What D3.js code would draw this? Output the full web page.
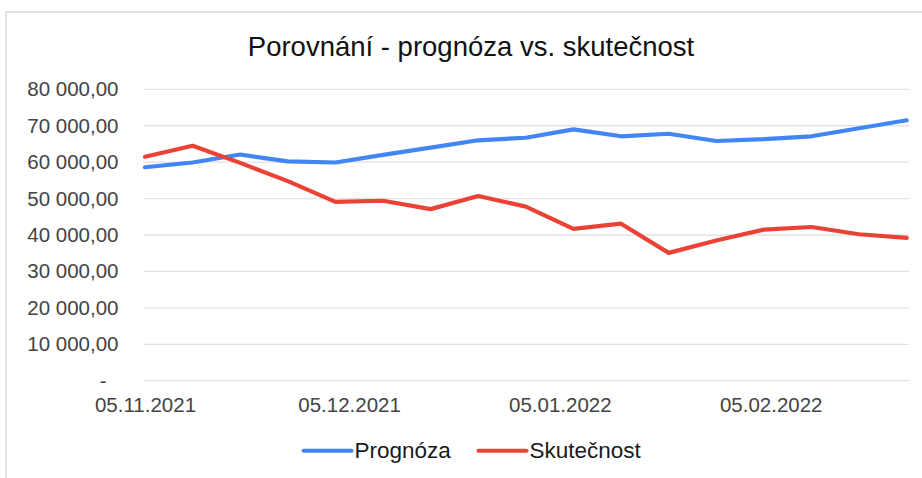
<!DOCTYPE html>
<html>
<head>
<meta charset="utf-8">
<script src="https://cdn.jsdelivr.net/npm/d3@7"></script>
<style>
  body { margin: 0; background: #fff; }
  svg { display: block; font-family: "Liberation Sans", Arial, sans-serif; }
</style>
</head>
<body>
<svg id="chart" width="922" height="478"></svg>
<script>
const title = "Porovnání - prognóza vs. skutečnost";

// weekly points, 05.11.2021 .. 25.02.2022
const dates = [
  "2021-11-05", "2021-11-12", "2021-11-19", "2021-11-26", "2021-12-03",
  "2021-12-10", "2021-12-17", "2021-12-24", "2021-12-31", "2022-01-07",
  "2022-01-14", "2022-01-21", "2022-01-28", "2022-02-04", "2022-02-11",
  "2022-02-18", "2022-02-25"
];
const prognoza = [
  58600, 59900, 62100, 60200, 59900, 62000, 64000, 66000, 66700,
  69000, 67100, 67800, 65800, 66300, 67100, 69300, 71500
];
const skutecnost = [
  61500, 64500, 59800, 54800, 49100, 49400, 47100, 50700, 47800,
  41700, 43100, 35100, 38500, 41500, 42200, 40200, 39200
];
const xTickDates = ["2021-11-05", "2021-12-05", "2022-01-05", "2022-02-05"];
const yTicks = [0, 10000, 20000, 30000, 40000, 50000, 60000, 70000, 80000];

const series = [
  { name: "Prognóza", values: prognoza, color: "#4285f4" },
  { name: "Skutečnost", values: skutecnost, color: "#ea4335" }
];

const parse = d3.utcParse("%Y-%m-%d");
const svg = d3.select("#chart");

// card frame (cut off at right and bottom)
svg.append("rect")
  .attr("x", 6).attr("y", 12)
  .attr("width", 1000).attr("height", 1000)
  .attr("fill", "#fff")
  .attr("stroke", "#e4e4e4")
  .attr("stroke-width", 2);

const x = d3.scaleUtc()
  .domain([parse(dates[0]), parse(dates[dates.length - 1])])
  .range([145, 906.7]);
const y = d3.scaleLinear().domain([0, 80000]).range([380.7, 89.3]);

const cz = d3.formatLocale({ decimal: ",", thousands: " ", grouping: [3], currency: ["", ""] });
const fmt = cz.format(",.2f");

// title
svg.append("text")
  .attr("x", 471).attr("y", 56)
  .attr("text-anchor", "middle")
  .attr("font-size", 27.5)
  .attr("fill", "#111")
  .text(title);

// gridlines
svg.append("g")
  .selectAll("line")
  .data(yTicks)
  .join("line")
  .attr("x1", 143.3).attr("x2", 909)
  .attr("y1", d => y(d)).attr("y2", d => y(d))
  .attr("stroke", "#e2e2e2")
  .attr("stroke-width", 1.3);

// y axis labels
const yAxis = svg.append("g")
  .attr("transform", "translate(118.5,0)")
  .call(d3.axisLeft(y).tickValues(yTicks).tickSize(0).tickPadding(0)
    .tickFormat(d => d === 0 ? "-" : fmt(d)));
yAxis.select(".domain").remove();
yAxis.selectAll("text")
  .attr("font-family", "Liberation Sans, Arial, sans-serif")
  .attr("font-size", 20.5)
  .attr("fill", "#444")
  .attr("dx", d => d === 0 ? -12 : 0);

// x axis labels
const xAxis = svg.append("g")
  .attr("transform", "translate(0,380.7)")
  .call(d3.axisBottom(x).tickValues(xTickDates.map(parse)).tickSize(0).tickPadding(0)
    .tickFormat(d3.utcFormat("%d.%m.%Y")));
xAxis.select(".domain").remove();
xAxis.selectAll("text")
  .attr("font-family", "Liberation Sans, Arial, sans-serif")
  .attr("font-size", 20.5)
  .attr("fill", "#444")
  .attr("dy", null)
  .attr("y", 31);

// lines
const line = d3.line()
  .x((d, i) => x(parse(dates[i])))
  .y(d => y(d));

svg.append("g")
  .selectAll("path")
  .data(series)
  .join("path")
  .attr("d", s => line(s.values))
  .attr("fill", "none")
  .attr("stroke", s => s.color)
  .attr("stroke-width", 4.2)
  .attr("stroke-linejoin", "round")
  .attr("stroke-linecap", "round");

// legend
const legendX = [303.5, 478.5];
const legend = svg.append("g")
  .selectAll("g")
  .data(series)
  .join("g")
  .attr("transform", (d, i) => `translate(${legendX[i]},450.7)`);
legend.append("line")
  .attr("x1", 0).attr("x2", 48)
  .attr("stroke", d => d.color)
  .attr("stroke-width", 4)
  .attr("stroke-linecap", "round");
legend.append("text")
  .attr("x", 51).attr("y", 7.5)
  .attr("font-size", 22.5)
  .attr("fill", "#1a1a1a")
  .text(d => d.name);
</script>
</body>
</html>
